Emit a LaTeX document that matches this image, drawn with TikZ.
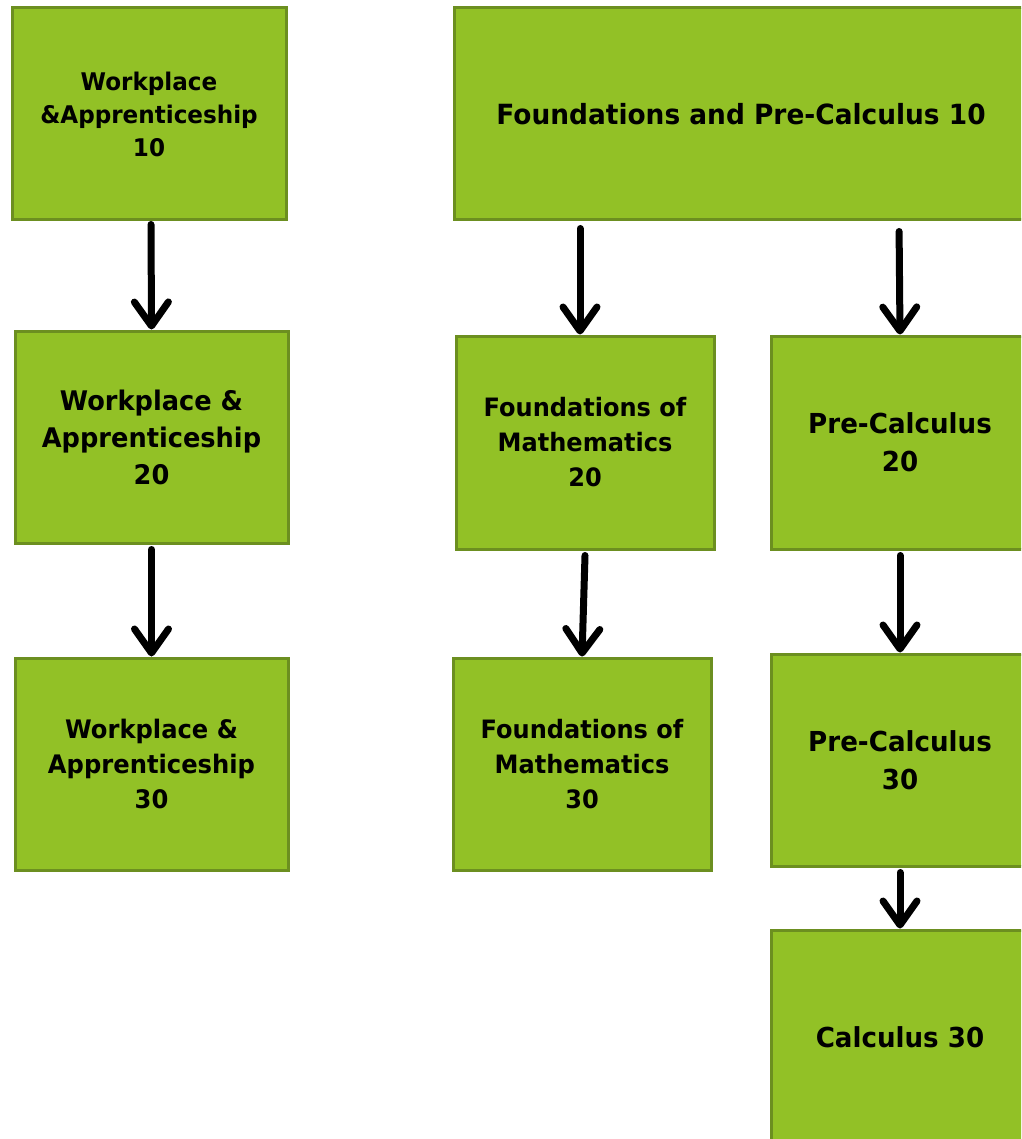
\documentclass[tikz,border=0pt]{standalone}
\usepackage{fontspec}
\newfontfamily\boxfont{DejaVu Sans}[FakeStretch=0.95]
\usetikzlibrary{arrows.meta}
\definecolor{boxfill}{RGB}{146,193,38}
\definecolor{boxline}{RGB}{108,143,32}
\tikzset{
  x=1pt,y=-1pt,
  box/.style={draw=boxline, fill=boxfill, line width=3pt, inner sep=0pt, align=center, font=\boxfont\bfseries},
  arr/.style={line width=7pt, line cap=round, -{Straight Barb[length=24pt,width=34pt,round]}}
}
\begin{document}
\begin{tikzpicture}
\useasboundingbox (0,0) rectangle (1021,1139);
\clip (0,0) rectangle (1021,1139);
\node[box, minimum width=274pt, minimum height=212pt, font=\boxfont\bfseries\fontsize{24.3}{33}\selectfont] (wa10) at (149,114) {Workplace\\\&Apprenticeship\\10};
\node[box, minimum width=574pt, minimum height=212pt, font=\boxfont\bfseries\fontsize{27.8}{36}\selectfont] (fpc10) at (741,114) {Foundations and Pre-Calculus 10};
\node[box, minimum width=273pt, minimum height=212pt, font=\boxfont\bfseries\fontsize{27}{37}\selectfont] (wa20) at (151.5,437) {Workplace \&\\Apprenticeship\\20};
\node[box, minimum width=258pt, minimum height=213pt, font=\boxfont\bfseries\fontsize{25.3}{35}\selectfont] (fom20) at (585,442.5) {Foundations of\\Mathematics\\20};
\node[box, minimum width=258pt, minimum height=213pt, font=\boxfont\bfseries\fontsize{27.5}{38}\selectfont] (pc20) at (900,442.5) {Pre-Calculus\\20};
\node[box, minimum width=273pt, minimum height=212pt, font=\boxfont\bfseries\fontsize{25.5}{35}\selectfont] (wa30) at (151.5,764) {Workplace \&\\Apprenticeship\\30};
\node[box, minimum width=258pt, minimum height=212pt, font=\boxfont\bfseries\fontsize{25.3}{35}\selectfont] (fom30) at (582,764) {Foundations of\\Mathematics\\30};
\node[box, minimum width=258pt, minimum height=212pt, font=\boxfont\bfseries\fontsize{27.5}{38}\selectfont] (pc30) at (900,760) {Pre-Calculus\\30};
\node[box, minimum width=258pt, minimum height=214pt, font=\boxfont\bfseries\fontsize{27.5}{38}\selectfont] (calc30) at (900,1037) {Calculus 30};
\draw[arr, shorten <=3pt] ([xshift=2pt]wa10.south) -- (wa20.north);
\draw[arr] ([yshift=-5pt]wa20.south) -- (wa30.north);
\draw[arr, shorten <=7pt] (fpc10.south -| 580,0) -- ([xshift=-5pt]fom20.north);
\draw[arr] ([yshift=-5pt]fom20.south) -- (fom30.north);
\draw[arr, shorten <=10pt] (fpc10.south -| 899,0) -- (pc20.north);
\draw[arr] ([yshift=-5pt]pc20.south) -- (pc30.north);
\draw[arr] ([yshift=-5pt]pc30.south) -- (calc30.north);
\end{tikzpicture}
\end{document}
